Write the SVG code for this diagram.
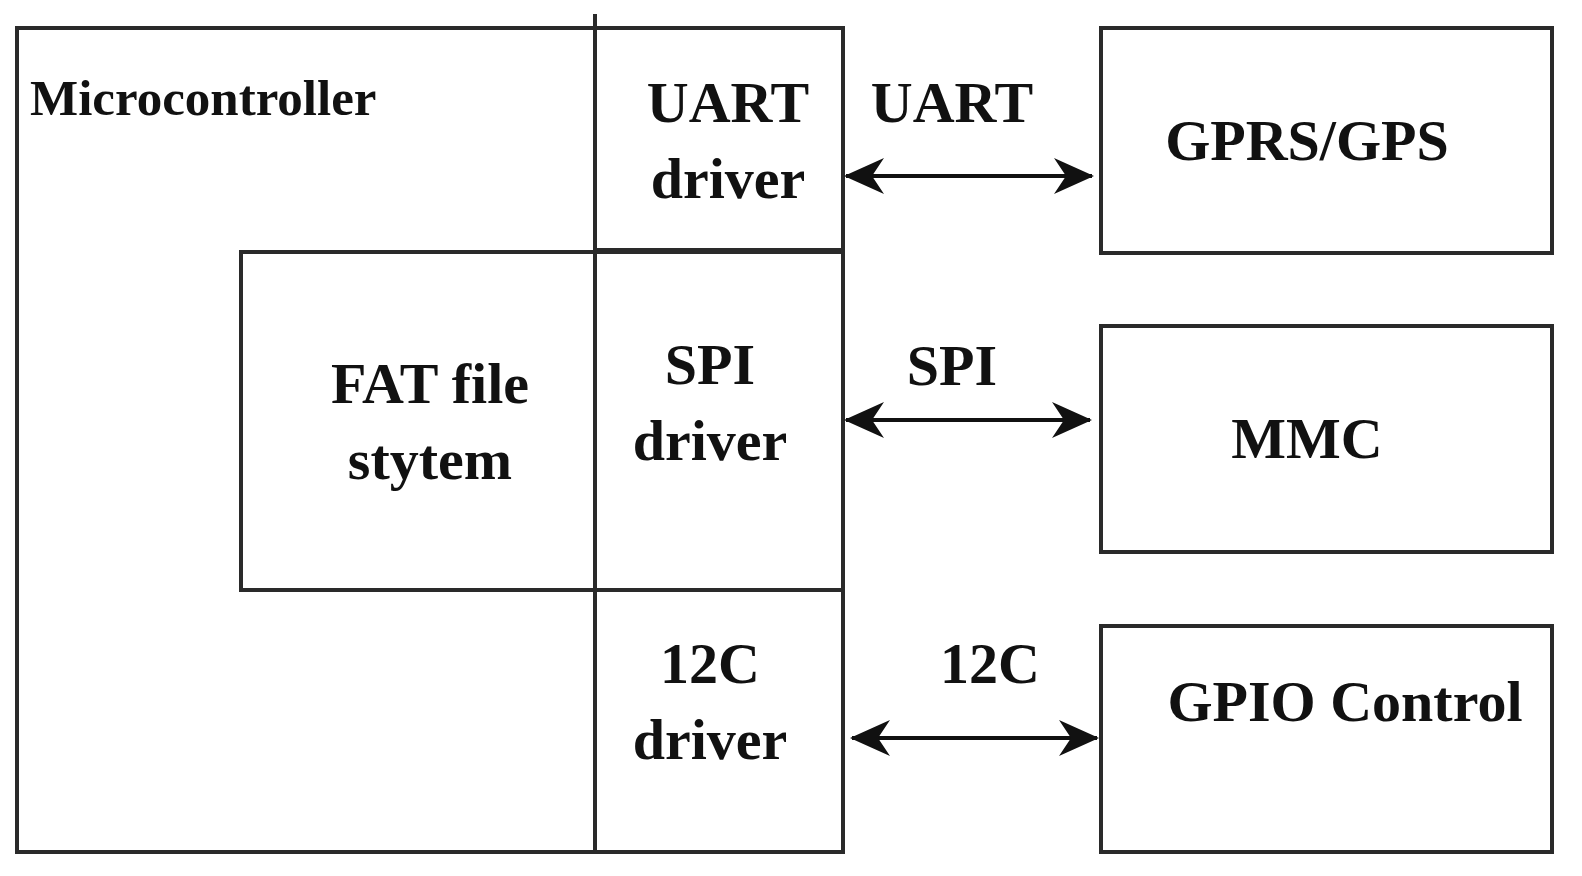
<svg xmlns="http://www.w3.org/2000/svg" width="1582" height="876" viewBox="0 0 1582 876">
<defs>
<style>
.b{fill:none;stroke:#2a2a2a;stroke-width:4}
.t{font-family:"Liberation Serif",serif;font-weight:bold;fill:#111;font-size:58px;text-anchor:middle}
.c{stroke:#111;stroke-width:4;fill:none}
</style>
<marker id="a" viewBox="0 0 40 36" refX="38" refY="18" markerWidth="40" markerHeight="36" markerUnits="userSpaceOnUse" orient="auto-start-reverse"><path d="M0,0 L40,18 L0,36 L12,18 Z" fill="#111"/></marker>
</defs>
<rect width="1582" height="876" fill="#fff"/>
<g id="microcontroller">
<rect class="b" x="17" y="28" width="826" height="824"/>
<text class="t" x="30" y="115" style="text-anchor:start;font-size:51px">Microcontroller</text>
</g>
<g id="uart-driver">
<line class="b" x1="595" y1="14" x2="595" y2="852"/>
<line class="b" x1="595" y1="250" x2="843" y2="250"/>
<text class="t" x="728" y="122">UART</text>
<text class="t" x="728" y="198">driver</text>
</g>
<g id="fat">
<rect class="b" x="241" y="252" width="602" height="338"/>
<text class="t" x="430" y="403">FAT file</text>
<text class="t" x="430" y="479">stytem</text>
</g>
<g id="spi-driver">
<text class="t" x="710" y="384">SPI</text>
<text class="t" x="710" y="460">driver</text>
</g>
<g id="i2c-driver">
<text class="t" x="710" y="683">12C</text>
<text class="t" x="710" y="759">driver</text>
</g>
<g id="gprs">
<rect class="b" x="1101" y="28" width="451" height="225"/>
<text class="t" x="1307" y="160">GPRS/GPS</text>
</g>
<g id="mmc">
<rect class="b" x="1101" y="326" width="451" height="226"/>
<text class="t" x="1307" y="458">MMC</text>
</g>
<g id="gpio">
<rect class="b" x="1101" y="626" width="451" height="226"/>
<text class="t" x="1345" y="721">GPIO Control</text>
</g>
<g id="connectors">
<line class="c" x1="846" y1="176" x2="1092" y2="176" marker-start="url(#a)" marker-end="url(#a)"/>
<line class="c" x1="846" y1="420" x2="1090" y2="420" marker-start="url(#a)" marker-end="url(#a)"/>
<line class="c" x1="852" y1="738" x2="1097" y2="738" marker-start="url(#a)" marker-end="url(#a)"/>
<text class="t" x="952" y="122">UART</text>
<text class="t" x="952" y="385">SPI</text>
<text class="t" x="990" y="683">12C</text>
</g>
</svg>
